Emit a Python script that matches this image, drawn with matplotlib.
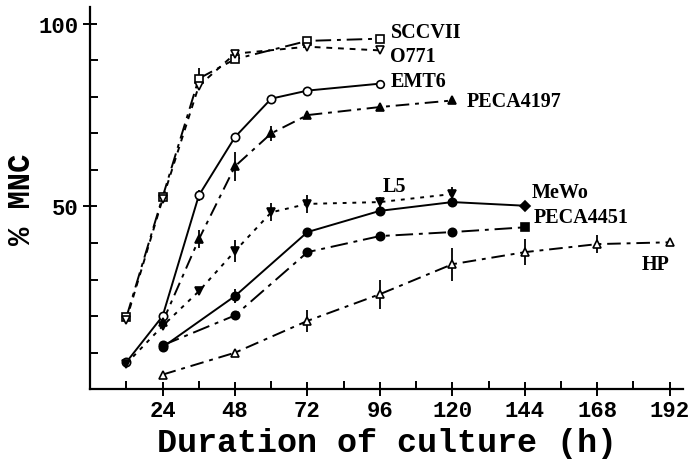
#!/usr/bin/env python3
# -*- coding: utf-8 -*-
import numpy as np
import matplotlib
matplotlib.use("Agg")
import matplotlib.pyplot as plt

# hours of culture / % MNC
x_sccvii = [12, 24, 36, 48, 72, 96]
y_sccvii = [19.7, 52.6, 85.0, 90.3, 95.3, 95.9]
e_sccvii = [0, 0, 3.0, 0, 0, 0]

x_o771 = [12, 24, 36, 48, 72, 96]
y_o771 = [19.0, 52.0, 83.0, 91.8, 93.7, 92.7]
e_o771 = [0, 0, 0, 0, 0, 0]

x_emt6 = [12, 24, 36, 48, 60, 72, 96]
y_emt6 = [7.4, 20.0, 53.0, 69.0, 79.5, 81.7, 83.6]
e_emt6 = [0, 0, 1.5, 0, 0, 0, 0]

x_peca4197 = [24, 36, 48, 60, 72, 96, 120]
y_peca4197 = [18.4, 41.0, 61.0, 70.0, 75.0, 77.2, 79.0]
e_peca4197 = [0, 2.5, 4.0, 2.0, 0, 0, 0]

x_l5 = [12, 24, 36, 48, 60, 72, 96, 120]
y_l5 = [7.0, 17.3, 26.8, 37.8, 48.4, 50.7, 51.2, 53.4]
e_l5 = [0, 0, 0, 3.0, 2.5, 2.5, 1.5, 2.0]

x_mewo = [24, 48, 72, 96, 120, 144]
y_mewo = [11.5, 25.5, 43.0, 48.8, 51.2, 50.2]
e_mewo = [0, 2.0, 0, 0, 0, 0]

x_peca4451 = [24, 48, 72, 96, 120, 144]
y_peca4451 = [12.0, 20.2, 37.5, 41.9, 43.0, 44.3]
e_peca4451 = [0, 0, 0, 0, 0, 0]

x_hp = [24, 48, 72, 96, 120, 144, 168, 192]
y_hp = [4.0, 10.0, 18.7, 26.0, 34.2, 37.5, 39.7, 40.2]
e_hp = [0, 0, 3.0, 4.0, 4.5, 3.5, 2.5, 0]

xticks = [24, 48, 72, 96, 120, 144, 168, 192]
yticks = [50, 100]

tick_font = dict(family="Liberation Mono", weight="bold", size=16)
lab_font = dict(family="Liberation Serif", weight="bold", size=14.5)

fig = plt.figure(figsize=(6.99, 4.64), dpi=100)
ax = fig.add_axes([0.129, 0.159, 0.848, 0.824])


def draw(x, y, e, ls, marker, fill, last_marker=None):
    x = np.array(x)
    y = np.array(y)
    e = np.array(e)
    fc = "black" if fill else "white"
    ax.plot(x, y, color="black", lw=1.4, linestyle=ls, zorder=2)
    m = e > 0
    if m.any():
        ax.errorbar(x[m], y[m], yerr=e[m], fmt="none", ecolor="black",
                    elinewidth=1.3, capsize=0, zorder=2)
    lm = last_marker if last_marker else marker
    ax.plot(x[:-1], y[:-1], linestyle="none", marker=marker, ms=6,
            mfc=fc, mec="black", mew=1.2, zorder=3)
    ax.plot(x[-1:], y[-1:], linestyle="none", marker=lm, ms=5.5,
            mfc=fc, mec="black", mew=1.2, zorder=3)


draw(x_sccvii, y_sccvii, e_sccvii, (0, (8, 3, 2, 3)), "s", False)
draw(x_o771, y_o771, e_o771, (0, (3, 3)), "v", False)
draw(x_emt6, y_emt6, e_emt6, "-", "o", False)
draw(x_peca4197, y_peca4197, e_peca4197, (0, (7, 3, 2, 3)), "^", True)
draw(x_l5, y_l5, e_l5, (0, (2, 3)), "v", True)
draw(x_mewo, y_mewo, e_mewo, "-", "o", True, "D")
draw(x_peca4451, y_peca4451, e_peca4451, (0, (9, 3, 2, 3)), "o", True, "s")
draw(x_hp, y_hp, e_hp, (0, (7, 3, 2, 3)), "^", False)

# series names
ax.text(99.5, 97.8, "SCCVII", va="center", ha="left", **lab_font)
ax.text(99.5, 91.2, "O771", va="center", ha="left", **lab_font)
ax.text(99.5, 84.4, "EMT6", va="center", ha="left", **lab_font)
ax.text(124.8, 78.9, "PECA4197", va="center", ha="left", **lab_font)
ax.text(97.0, 55.6, "L5", va="center", ha="left", **lab_font)
ax.text(146.4, 54.0, "MeWo", va="center", ha="left", **lab_font)
ax.text(147.0, 47.1, "PECA4451", va="center", ha="left", **lab_font)
ax.text(182.8, 34.2, "HP", va="center", ha="left", **lab_font)

ax.set_xlim(0, 196.4)
ax.set_ylim(0, 104.6)
ax.spines["top"].set_visible(False)
ax.spines["right"].set_visible(False)
ax.spines["left"].set_linewidth(1.6)
ax.spines["bottom"].set_linewidth(1.6)

ax.set_xticks(xticks)
ax.set_xticklabels([str(t) for t in xticks], fontdict=tick_font)
ax.set_xticks(np.arange(12, 196, 24), minor=True)
ax.set_yticks(yticks)
ax.set_yticklabels([str(t) for t in yticks], fontdict=tick_font)
ax.set_yticks(np.arange(10, 100, 10), minor=True)
ax.tick_params(axis="both", which="major", direction="inout", length=10, width=1.4, pad=3)
ax.tick_params(axis="both", which="minor", direction="in", length=6, width=1.4)

ax.set_xlabel("Duration of culture (h)", family="Liberation Mono",
              weight="bold", size=24, labelpad=4)
ax.set_ylabel("% MNC", family="Liberation Mono", weight="bold", size=22)
ax.yaxis.set_label_coords(-0.09, 0.5)

fig.savefig("out.png", dpi=100)
